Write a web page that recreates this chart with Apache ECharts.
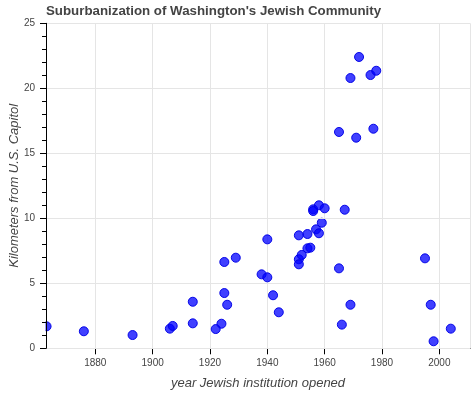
<!DOCTYPE html>
<html>
<head>
<meta charset="utf-8">
<script src="https://cdn.jsdelivr.net/npm/echarts@6/dist/echarts.min.js"></script>
<style>html,body{margin:0;padding:0;background:#fff}#c{width:472px;height:394px}</style>
</head>
<body>
<div id="c"></div>
<script>
const titleText = "Suburbanization of Washington's Jewish Community";
const xName = "year Jewish institution opened";
const yName = "Kilometers from U.S. Capitol";
const years = [1863,1876,1893,1906,1907,1914,1914,1922,1924,1925,1925,1926,1929,1938,1940,1940,1942,1944,1951,1951,1951,1952,1954,1954,1955,1956,1956,1957,1958,1958,1959,1960,1965,1965,1966,1967,1969,1969,1971,1972,1976,1977,1978,1995,1997,1998,2004];
const km = [1.69,1.31,1.02,1.51,1.72,3.58,1.92,1.48,1.89,4.25,6.64,3.35,6.97,5.69,8.38,5.46,4.08,2.77,8.69,6.85,6.46,7.18,7.69,8.79,7.74,10.69,10.56,9.15,11.0,8.85,9.66,10.77,6.15,16.64,1.82,10.66,3.35,20.79,16.2,22.41,21.02,16.89,21.35,6.92,3.35,0.54,1.51];

const pts = years.map((y, i) => [y, km[i]]);
const font = "'Liberation Sans', Arial, Helvetica, sans-serif";
const chart = echarts.init(document.getElementById('c'), null, {renderer: 'canvas'});
chart.setOption({
  animation: false,
  backgroundColor: '#fff',
  title: {
    text: titleText, left: 46, top: 5, padding: 0,
    textStyle: {fontFamily: font, fontSize: 13.3, fontWeight: 'bold', color: '#444'}
  },
  grid: {left: 46, right: 2, top: 23.3, bottom: 45.7, containLabel: false, outerBoundsMode: 'none'},
  xAxis: {
    type: 'value', min: 1862.8, max: 2010.7, splitNumber: 7,
    name: xName, nameLocation: 'middle', nameGap: 29, nameMoveOverlap: false,
    nameTextStyle: {fontFamily: font, fontSize: 13, fontStyle: 'italic', color: '#444'},
    axisLine: {show: true, onZero: false, lineStyle: {color: '#000', width: 1}},
    axisTick: {show: true, length: 6, lineStyle: {color: '#000'}},
    minorTick: {show: false},
    axisLabel: {showMinLabel: false, showMaxLabel: false, margin: 10, fontFamily: font, fontSize: 10, color: '#444',
      formatter: v => String(Math.round(v))},
    splitLine: {show: true, lineStyle: {color: '#e5e5e5', width: 1}}
  },
  yAxis: {
    type: 'value', min: 0, max: 25, interval: 5, z: 20,
    name: yName, nameLocation: 'middle', nameGap: 25, nameMoveOverlap: false,
    nameTextStyle: {fontFamily: font, fontSize: 13, fontStyle: 'italic', color: '#444'},
    axisLine: {show: true, lineStyle: {color: '#000', width: 1}},
    axisTick: {show: true, length: 6, lineStyle: {color: '#000'}},
    minorTick: {show: true, splitNumber: 5, length: 4, lineStyle: {color: '#000'}},
    axisLabel: {margin: 11, fontFamily: font, fontSize: 10, color: '#444'},
    splitLine: {show: true, lineStyle: {color: '#e5e5e5', width: 1}}
  },
  graphic: [{
    type: 'rect', z: 10, silent: true,
    shape: {x: 0, y: 315, width: 45.5, height: 25},
    style: {fill: '#fff'}
  }],
  series: [{
    type: 'scatter', data: pts, symbol: 'circle', symbolSize: 9, clip: false,
    itemStyle: {color: 'rgba(0,0,255,0.75)', borderColor: 'rgba(0,0,230,0.95)', borderWidth: 1, opacity: 1}
  }]
});
</script>
</body>
</html>
